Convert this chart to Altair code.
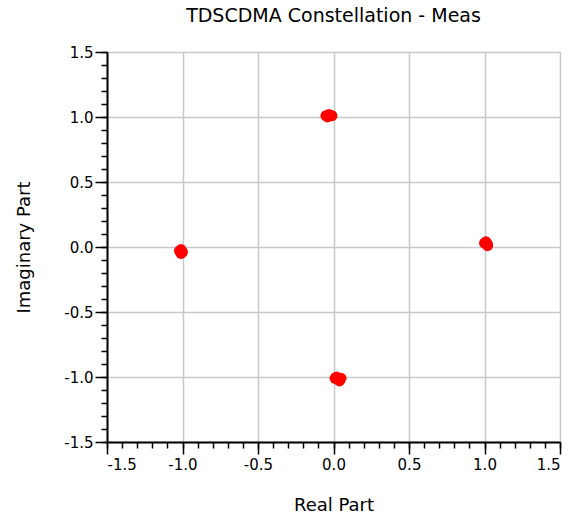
import altair as alt
import pandas as pd

# Measured constellation points (real, imaginary), grouped by symbol
real_part = [-0.05, -0.03, -0.01, -0.04, -0.02,
             -1.01, -1.00, -1.02, -1.01,
             1.01, 1.02, 1.00, 1.02,
             0.01, 0.03, 0.05, 0.04, 0.02]
imag_part = [1.01, 1.02, 1.01, 1.00, 1.01,
             -0.02, -0.04, -0.03, -0.05,
             0.04, 0.02, 0.03, 0.01,
             -1.01, -1.02, -1.01, -1.03, -1.00]

major_ticks = [-1.5, -1.0, -0.5, 0.0, 0.5, 1.0, 1.5]
minor_ticks = [round(-1.5 + 0.1 * i, 1) for i in range(31)]

df = pd.DataFrame({"re": real_part, "im": imag_part})

FONT = "DejaVu Sans"
dom = [-1.5, 1.5]
# plain hyphen for negative labels
LABEL = "(datum.value < 0 ? '-' : '') + format(abs(datum.value), '.1f')"

base = alt.Chart(df)

# Minor tick layer (no labels, no grid)
minor = base.mark_point(opacity=0).encode(
    x=alt.X("re:Q", scale=alt.Scale(domain=dom, nice=False, zero=False),
            axis=alt.Axis(orient="bottom", values=minor_ticks, labels=False, title=None,
                          grid=False, tickSize=6, tickColor="black", domain=False,
                          tickWidth=1.5)),
    y=alt.Y("im:Q", scale=alt.Scale(domain=dom, nice=False, zero=False),
            axis=alt.Axis(orient="left", values=minor_ticks, labels=False, title=None,
                          grid=False, tickSize=6, tickColor="black", domain=False,
                          tickWidth=1.5)),
)

points = base.mark_circle(size=120, color="#ff0000", opacity=1).encode(
    x=alt.X("re:Q", scale=alt.Scale(domain=dom, nice=False, zero=False),
            axis=alt.Axis(orient="bottom", values=major_ticks, labelExpr=LABEL,
                          title="Real Part",
                          grid=True, gridColor="#c8c8c8", gridWidth=1.5,
                          tickSize=12, tickColor="black", tickWidth=1.5,
                          domainColor="black", domainWidth=2,
                          labelFont=FONT, labelFontSize=15, labelColor="black",
                          labelPadding=3,
                          titleFont=FONT, titleFontSize=18, titleFontWeight="normal",
                          titleColor="black", titlePadding=24)),
    y=alt.Y("im:Q", scale=alt.Scale(domain=dom, nice=False, zero=False),
            axis=alt.Axis(orient="left", values=major_ticks, labelExpr=LABEL,
                          title="Imaginary Part",
                          grid=True, gridColor="#c8c8c8", gridWidth=1.5,
                          tickSize=12, tickColor="black", tickWidth=1.5,
                          domainColor="black", domainWidth=2,
                          labelFont=FONT, labelFontSize=15, labelColor="black",
                          labelPadding=2,
                          titleFont=FONT, titleFontSize=18, titleFontWeight="normal",
                          titleColor="black", titlePadding=30)),
)

chart = alt.layer(minor, points).resolve_axis(x="independent", y="independent").properties(
    width=453,
    height=390,
    autosize=alt.AutoSizeParams(type="none"),
    padding={"left": 107, "top": 52, "right": 16, "bottom": 79},
    title=alt.TitleParams("TDSCDMA Constellation - Meas", font=FONT, fontSize=19,
                          fontWeight="normal", color="black", offset=19, anchor="middle"),
).configure_view(stroke="#444444", strokeWidth=2).configure(background="white")

chart.save("out.html", embed_options={"renderer": "svg", "actions": False})
